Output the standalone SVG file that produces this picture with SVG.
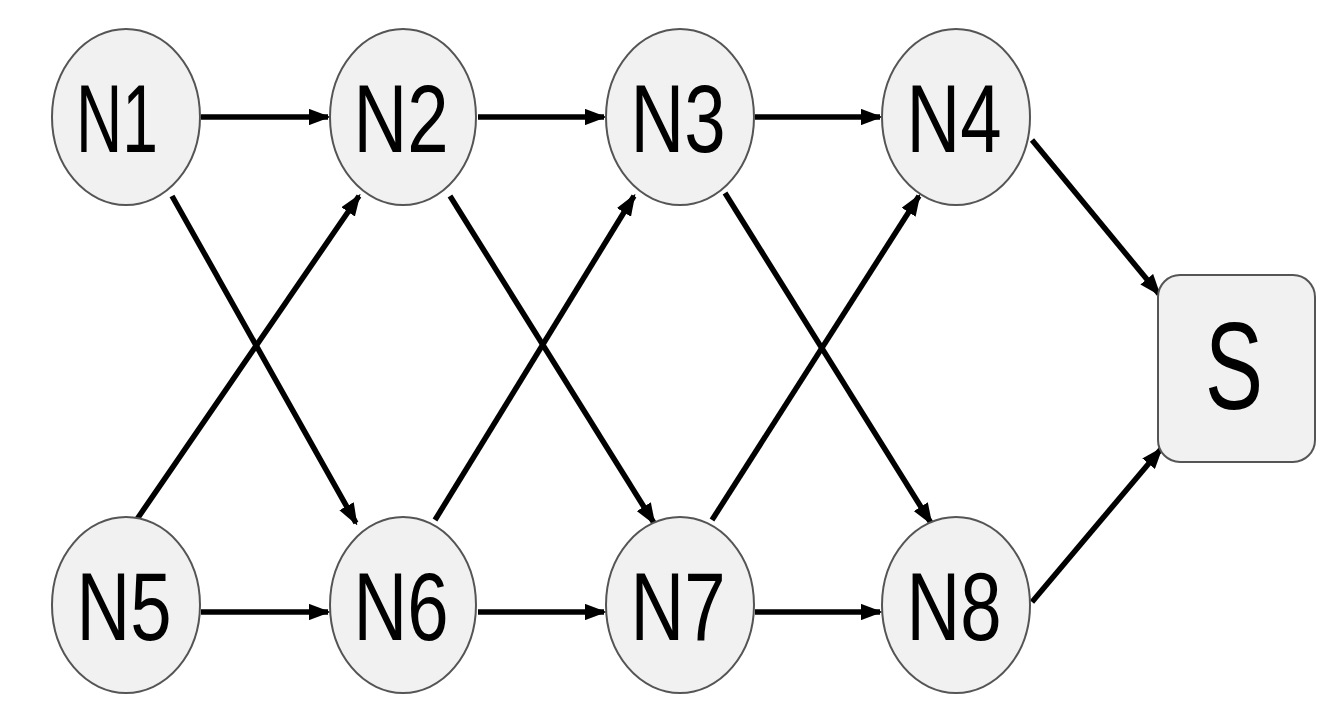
<svg xmlns="http://www.w3.org/2000/svg" width="1338" height="720" viewBox="0 0 1338 720">
<style>
.n{fill:#f1f1f1;stroke:#555;stroke-width:2}
.t{font-family:"Liberation Sans",Arial,sans-serif;font-size:96px;fill:#000;text-anchor:middle}
.e{stroke:#000;stroke-width:5.5;fill:none;marker-end:url(#a)}
</style>
<defs><marker id="a" markerWidth="4" markerHeight="3" refX="3.5" refY="1.5" orient="auto" markerUnits="strokeWidth"><path d="M0,0L4,1.5L0,3z" fill="#000"/></marker></defs>
<rect width="1338" height="720" fill="#fff"/>
<g id="connectors">
<line class="e" x1="201" y1="117" x2="328" y2="117"/>
<line class="e" x1="478" y1="117" x2="604" y2="117"/>
<line class="e" x1="755" y1="117" x2="880" y2="117"/>
<line class="e" x1="201" y1="612" x2="328" y2="612"/>
<line class="e" x1="478" y1="612" x2="604" y2="612"/>
<line class="e" x1="755" y1="612" x2="880" y2="612"/>
<line class="e" x1="172" y1="196" x2="356" y2="523"/>
<line class="e" x1="133" y1="525" x2="359" y2="196"/>
<line class="e" x1="450" y1="196" x2="654" y2="523"/>
<line class="e" x1="435" y1="520" x2="634" y2="196"/>
<line class="e" x1="725" y1="193" x2="931" y2="523"/>
<line class="e" x1="712" y1="520" x2="919" y2="196"/>
<line class="e" x1="1032" y1="140" x2="1159" y2="294"/>
<line class="e" x1="1032" y1="602" x2="1161" y2="449"/>
</g>
<g id="N1"><ellipse class="n" cx="126" cy="117" rx="74" ry="88"/><text class="t" x="117" y="152" textLength="82" lengthAdjust="spacingAndGlyphs">N1</text></g>
<g id="N2"><ellipse class="n" cx="403" cy="117" rx="73" ry="88"/><text class="t" x="401" y="152" textLength="95" lengthAdjust="spacingAndGlyphs">N2</text></g>
<g id="N3"><ellipse class="n" cx="680" cy="117" rx="74" ry="88"/><text class="t" x="678" y="152" textLength="95" lengthAdjust="spacingAndGlyphs">N3</text></g>
<g id="N4"><ellipse class="n" cx="956" cy="117" rx="74" ry="88"/><text class="t" x="954" y="152" textLength="95" lengthAdjust="spacingAndGlyphs">N4</text></g>
<g id="N5"><ellipse class="n" cx="126" cy="605" rx="74" ry="88"/><text class="t" x="124" y="640" textLength="95" lengthAdjust="spacingAndGlyphs">N5</text></g>
<g id="N6"><ellipse class="n" cx="403" cy="605" rx="73" ry="88"/><text class="t" x="401" y="640" textLength="95" lengthAdjust="spacingAndGlyphs">N6</text></g>
<g id="N7"><ellipse class="n" cx="680" cy="605" rx="74" ry="88"/><text class="t" x="678" y="640" textLength="95" lengthAdjust="spacingAndGlyphs">N7</text></g>
<g id="N8"><ellipse class="n" cx="956" cy="605" rx="74" ry="88"/><text class="t" x="954" y="640" textLength="95" lengthAdjust="spacingAndGlyphs">N8</text></g>
<g id="S"><rect class="n" x="1158" y="275" width="157" height="187" rx="22"/><text class="t" x="1234" y="409" style="font-size:125px" textLength="58" lengthAdjust="spacingAndGlyphs">S</text></g>
</svg>
